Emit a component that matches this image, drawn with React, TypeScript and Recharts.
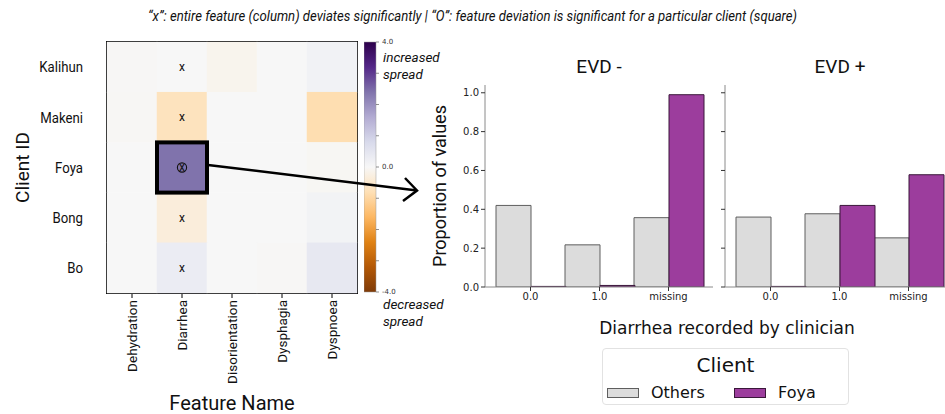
import React from 'react';
import { ScatterChart, Scatter, XAxis, YAxis, ReferenceArea, BarChart, Bar } from 'recharts';

// heatmap: deviation per client, one value per feature
const clients = ['Kalihun', 'Makeni', 'Foya', 'Bong', 'Bo'];
const features = ['Dehydration', 'Diarrhea', 'Disorientation', 'Dysphagia', 'Dyspnoea'];
const kalihunDev = [-0.02, 0.0, -0.12, 0.0, 0.15];
const makeniDev = [-0.04, -0.7, 0.0, 0.0, -0.85];
const foyaDev = [0.0, 2.4, 0.0, 0.0, -0.05];
const bongDev = [0.0, -0.35, 0.0, 0.0, 0.12];
const boDev = [0.0, 0.3, 0.0, -0.02, 0.42];
const deviations = [kalihunDev, makeniDev, foyaDev, bongDev, boDev];
const flaggedFeatures = ['Diarrhea'];
const flaggedClient = 'Foya';
const flaggedFeature = 'Diarrhea';

// PuOr colormap, -4 .. 4
const puorStops = ['#7f3b08', '#b35806', '#e08214', '#fdb863', '#fee0b6', '#f7f7f7', '#d8daeb', '#b2abd2', '#8073ac', '#542788', '#2d004b'];
const CB_MIN = -4;
const CB_MAX = 4;
const cbTicks = [-4, -3, -2, -1, 0, 1, 2, 3, 4];
const cbLabelled = [-4, 0, 4];

// bar panels
const outcomes = ['0.0', '1.0', 'missing'];
const evdNegOthers = [0.42, 0.217, 0.357];
const evdNegFoya = [0.003, 0.008, 0.99];
const evdPosOthers = [0.36, 0.377, 0.253];
const evdPosFoya = [0.003, 0.42, 0.578];
const propTicks = [0, 0.2, 0.4, 0.6, 0.8, 1.0];

const clientSeries = [
  { key: 'others', name: 'Others', fill: '#dcdcdc', stroke: '#5e5e5e' },
  { key: 'foya', name: 'Foya', fill: '#9c3d9d', stroke: '#3a173a' },
];

const HM = { left: 107, top: 42, width: 250, height: 251 };
const CW = HM.width / features.length;
const CH = HM.height / clients.length;

const hexRgb = (h: string) => [1, 3, 5].map((i) => parseInt(h.slice(i, i + 2), 16));
function puor(v: number) {
  const n = puorStops.length - 1;
  const t = Math.min(1, Math.max(0, (v - CB_MIN) / (CB_MAX - CB_MIN))) * n;
  const i = Math.min(Math.floor(t), n - 1);
  const f = t - i;
  const a = hexRgb(puorStops[i]);
  const b = hexRgb(puorStops[i + 1]);
  return `rgb(${a.map((c, k) => Math.round(c + (b[k] - c) * f)).join(',')})`;
}

const cells = clients.flatMap((c, r) =>
  features.map((f, i) => ({
    x: i + 0.5,
    y: r + 0.5,
    v: deviations[r][i],
    col: flaggedFeatures.includes(f),
    hit: c === flaggedClient && f === flaggedFeature,
  }))
);

const CellShape = (p: any) => {
  const { cx, cy, payload } = p;
  return (
    <g>
      <rect x={cx - CW / 2 - 0.25} y={cy - CH / 2 - 0.25} width={CW + 0.5} height={CH + 0.5} fill={puor(payload.v)} />
      {payload.col && (
        <text x={cx} y={cy} dy="0.33em" textAnchor="middle" fontSize={12} fontFamily="Roboto" fill="#111">x</text>
      )}
      {payload.hit && <circle cx={cx} cy={cy} r={4.6} fill="none" stroke="#111" strokeWidth={1.1} />}
    </g>
  );
};

const HitShape = (p: any) => (
  <rect x={p.cx - CW / 2} y={p.cy - CH / 2} width={CW} height={CH} fill="none" stroke="#000" strokeWidth={4} />
);

const FeatureTick = ({ x, y, payload }: any) => (
  <text x={x} y={y} transform={`rotate(-90 ${x} ${y})`} textAnchor="end" dy="0.35em" fontSize={13.5} fill="#111" fontFamily="Roboto">
    {features[Math.floor(payload.value)]}
  </text>
);

// the heatmap labels are slightly condensed in the original figure
const ClientTick = ({ x, y, payload }: any) => (
  <text x={0} y={0} transform={`translate(${x} ${y}) scale(0.88 1)`} textAnchor="end" dy="0.35em" fontSize={15} fill="#111" fontFamily="Roboto">
    {clients[Math.floor(payload.value)]}
  </text>
);

function Heatmap() {
  return (
    <ScatterChart width={HM.left + HM.width + 23} height={414} margin={{ top: HM.top, right: 23, left: 0, bottom: 0 }}>
      <XAxis type="number" dataKey="x" domain={[0, features.length]} ticks={features.map((_, i) => i + 0.5)} interval={0}
        tick={<FeatureTick />} tickSize={5} tickLine={{ stroke: '#000' }} axisLine={false} height={414 - HM.top - HM.height} />
      <YAxis type="number" dataKey="y" domain={[0, clients.length]} reversed ticks={clients.map((_, i) => i + 0.5)} interval={0}
        tick={<ClientTick />} tickLine={false} axisLine={false} tickMargin={18} width={HM.left} />
      <Scatter data={cells} shape={CellShape} isAnimationActive={false} />
      <Scatter data={cells.filter((c) => c.hit)} shape={HitShape} isAnimationActive={false} />
      <ReferenceArea x1={0} x2={features.length} y1={0} y2={clients.length} fill="none" stroke="#000" strokeWidth={2} fillOpacity={0} />
    </ScatterChart>
  );
}

function Colorbar() {
  return (
    <BarChart width={60} height={414} data={[{ name: 'cb', range: [CB_MIN, CB_MAX] }]} margin={{ top: 42, right: 0, bottom: 122, left: 0 }} barCategoryGap={0}>
      <defs>
        <linearGradient id="puorGrad" x1="0" y1="1" x2="0" y2="0">
          {puorStops.map((c, i) => (
            <stop key={i} offset={`${(i / (puorStops.length - 1)) * 100}%`} stopColor={c} />
          ))}
        </linearGradient>
      </defs>
      <XAxis dataKey="name" hide />
      <YAxis orientation="right" type="number" domain={[CB_MIN, CB_MAX]} ticks={cbTicks} interval={0} width={48}
        tickFormatter={(v: number) => (cbLabelled.includes(v) ? v.toFixed(1) : '')} tickSize={3} tickMargin={3}
        axisLine={false} tickLine={{ stroke: '#444', strokeWidth: 0.6 }} tick={{ fontSize: 7, fill: '#333', fontFamily: 'DejaVu Sans' }} />
      <Bar dataKey="range" fill="url(#puorGrad)" stroke="#999" strokeWidth={0.5} isAnimationActive={false} />
    </BarChart>
  );
}

function OutcomePanel({ others, foya, yWidth, width, padRight, showLabels }: any) {
  const data = outcomes.map((o, i) => ({ name: o, others: others[i], foya: foya[i] }));
  return (
    <BarChart width={width} height={414} data={data} margin={{ top: 85, right: 0, bottom: 0, left: 0 }} barCategoryGap={0} barGap={0}>
      <XAxis dataKey="name" height={127} padding={{ left: 11, right: padRight }} tickSize={4} tickMargin={2}
        axisLine={{ stroke: '#8a8a8a' }} tickLine={{ stroke: '#333' }} tick={{ fontSize: 10, fill: '#222', fontFamily: 'DejaVu Sans' }} />
      <YAxis type="number" domain={[0, 1.04]} allowDataOverflow ticks={propTicks} interval={0} width={yWidth} tickSize={4} tickMargin={2}
        tickFormatter={(v: number) => (showLabels ? v.toFixed(1) : '')} axisLine={{ stroke: '#8a8a8a' }} tickLine={{ stroke: '#333' }}
        tick={{ fontSize: 10, fill: '#222', fontFamily: 'DejaVu Sans' }} />
      {clientSeries.map((s) => (
        <Bar key={s.key} dataKey={s.key} fill={s.fill} stroke={s.stroke} strokeWidth={1} isAnimationActive={false} />
      ))}
    </BarChart>
  );
}

const abs = (left: number, top: number): React.CSSProperties => ({ position: 'absolute', left, top });

export default function App() {
  return (
    <div style={{ position: 'absolute', left: 0, top: 0, width: 945, height: 414, overflow: 'hidden', background: '#fff', fontFamily: 'Roboto' }}>
      <div style={abs(0, 0)}><Heatmap /></div>
      <div style={abs(364, 0)}><Colorbar /></div>
      <div style={abs(420, 0)}>
        <OutcomePanel others={evdNegOthers} foya={evdNegFoya} yWidth={65} width={293} padRight={10} showLabels />
      </div>
      <div style={abs(700, 0)}>
        <OutcomePanel others={evdPosOthers} foya={evdPosFoya} yWidth={25} width={254} padRight={11} showLabels={false} />
      </div>

      {/* legend shared by both panels */}
      <div style={{ ...abs(602, 348), width: 247, height: 57, border: '1px solid #e2e2e2', borderRadius: 4, boxSizing: 'border-box', fontFamily: 'DejaVu Sans', color: '#111' }}>
        <div style={{ textAlign: 'center', fontSize: 20, lineHeight: '22px', marginTop: 5 }}>Client</div>
        {clientSeries.map((s, i) => (
          <div key={s.key} style={{ ...abs(4 + i * 127, 34), display: 'flex', alignItems: 'center', fontSize: 16 }}>
            <span style={{ display: 'inline-block', width: 32, height: 10, background: s.fill, border: `1px solid ${s.stroke}`, boxSizing: 'border-box', marginRight: 12 }} />
            {s.name}
          </div>
        ))}
      </div>

      <svg width={945} height={414} style={{ ...abs(0, 0), pointerEvents: 'none' }}>
        <text x={148} y={21} textLength={649} lengthAdjust="spacingAndGlyphs" fontSize={14} fontStyle="italic" fontFamily="Roboto" fill="#111">
          “x”:  entire feature (column)  deviates significantly | “O”: feature deviation is significant for a particular client (square)
        </text>
        <text x={29} y={HM.top + HM.height / 2} transform={`rotate(-90 29 ${HM.top + HM.height / 2})`} textAnchor="middle" fontSize={19} fontFamily="Roboto" fill="#111">Client ID</text>
        <text x={HM.left + HM.width / 2} y={410} textAnchor="middle" fontSize={20} fontFamily="Roboto" fill="#111">Feature Name</text>

        <g fontFamily="Roboto" fontStyle="italic" fontSize={13.5} fill="#111">
          <text x={383} y={62}>increased</text>
          <text x={383} y={79}>spread</text>
          <text x={383} y={309}>decreased</text>
          <text x={383} y={326}>spread</text>
        </g>

        {/* arrow from flagged cell to the panels */}
        <line x1={208} y1={165} x2={417} y2={190.5} stroke="#000" strokeWidth={2.5} />
        <polyline points="405,178 417,190.5 403,201" fill="none" stroke="#000" strokeWidth={2.5} />

        <text x={446} y={186} transform="rotate(-90 446 186)" textAnchor="middle" fontSize={18} fontFamily="Roboto" fill="#111">Proportion of values</text>
        <text x={599} y={73} textAnchor="middle" fontSize={19} fontFamily="Roboto" fill="#111">EVD -</text>
        <text x={840} y={73} textAnchor="middle" fontSize={19} fontFamily="Roboto" fill="#111">EVD +</text>
        <text x={727} y={334} textAnchor="middle" fontSize={17} fontFamily="DejaVu Sans" fill="#111">Diarrhea recorded by clinician</text>
      </svg>
    </div>
  );
}
